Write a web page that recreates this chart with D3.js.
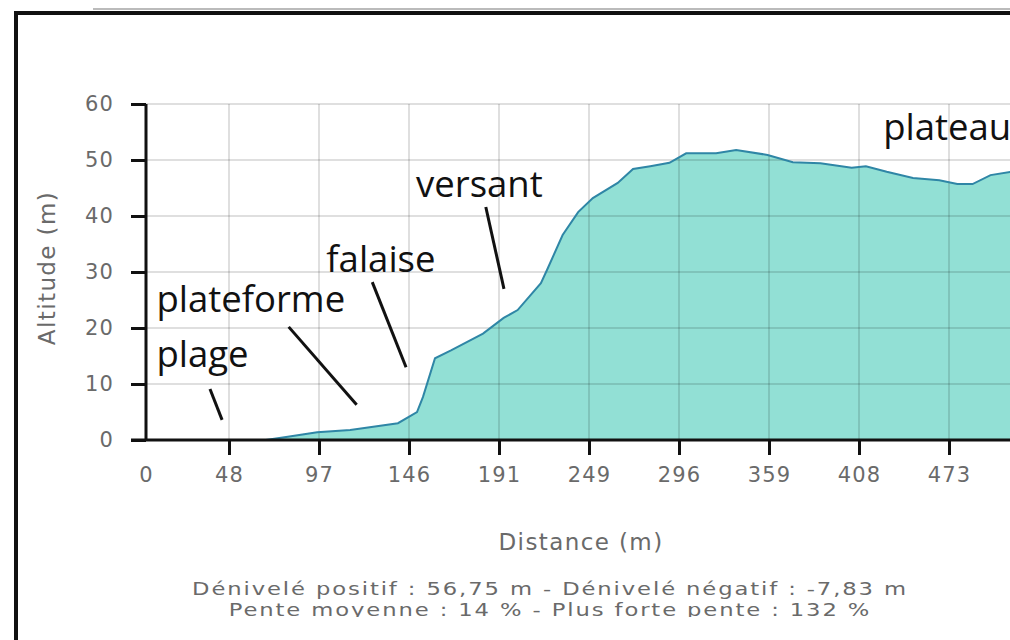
<!DOCTYPE html>
<meta charset="utf-8">
<style>
    body { margin: 0; background: #fff; }
    .grid line { stroke: #000; stroke-opacity: 0.17; stroke-width: 1.5px; }
    .axis path { display: none; }
    .axis line, .axis-line { stroke: #111; stroke-width: 3px; }
    .axis text {
        font-family: "DejaVu Sans", sans-serif;
        font-size: 21px;
        fill: #6a6a6a;
        letter-spacing: 1.2px;
    }
    .axis-title {
        font-family: "DejaVu Sans", sans-serif;
        font-size: 23px;
        fill: #6a6a6a;
        letter-spacing: 1.4px;
    }
    .footer {
        font-family: "DejaVu Sans", sans-serif;
        font-size: 18px;
        fill: #6a6a6a;
        letter-spacing: 1.5px;
    }
    .note { font-family: "Open Sans", sans-serif; font-size: 36.5px; fill: #111; }
    .leader { stroke: #111; stroke-width: 3px; }
    .profileArea { fill: #92e0d5; }
    .profileLine { fill: none; stroke: #2f86a6; stroke-width: 2px; }
    .frame { fill: none; stroke: #111; }
</style>
<body>
<script src="https://d3js.org/d3.v7.min.js"></script>
<script>

    // profile: distance (m) and altitude (m)
    var distances = [0, 68, 80, 96, 114, 140, 150, 153, 159, 167, 183, 194, 203, 218, 222, 232, 242,
                     251, 264, 272, 281, 291, 301, 322, 336, 358, 372, 387, 404, 413, 428, 447, 466,
                     479, 490, 503, 518, 532];
    var altitudes = [0, 0, 0.6, 1.4, 1.8, 3.0, 5.0, 7.7, 14.6, 16.0, 19.0, 21.8, 23.2, 28.0, 30.4, 36.6, 40.7,
                     43.2, 45.9, 48.4, 48.9, 49.5, 51.2, 51.2, 51.8, 50.9, 49.6, 49.4, 48.6, 48.9, 47.9, 46.8, 46.4,
                     45.7, 45.7, 47.3, 47.9, 48.2];

    // axis ticks
    var tickDistances = [0, 48, 97, 146, 191, 249, 296, 359, 408, 473];
    var altTicks = [0, 10, 20, 30, 40, 50, 60];

    // annotations, anchored in chart units (distance, altitude)
    var noteTexts = ["plage", "plateforme", "falaise", "versant", "plateau"];
    var noteAt = [[6, 13], [6, 22.9], [101, 30], [149.5, 43.4], [425.5, 53.6]];
    var leaderFrom = [[37, 9.1], [80.5, 20.2], [126, 28.2], [184.4, 41.6], null];
    var leaderTo = [[44, 3.6], [117.5, 6.3], [144.4, 13], [194.2, 27], null];

    var footerLines = ["Dénivelé positif : 56,75 m - Dénivelé négatif : -7,83 m",
                       "Pente moyenne : 14 % - Plus forte pente : 132 %"];

    var W = 1010, H = 640;
    var margin = {top: 104, left: 146, bottom: 200};
    var plotBottom = H - margin.bottom;
    var firstGap = 83, tickStep = 90;

    // the profile tool spaces its labelled samples evenly
    var x = d3.scaleLinear()
        .domain(tickDistances)
        .range(tickDistances.map(function(d, i) {
            return margin.left + (i === 0 ? 0 : firstGap + (i - 1) * tickStep);
        }));
    var y = d3.scaleLinear().domain([0, 60]).range([plotBottom, margin.top]);

    var data = distances.map(function(d, i) { return {dist: d, alt: altitudes[i]}; });

    var svg = d3.select("body").append("svg")
        .attr("width", W)
        .attr("height", H);

    // frame of the screenshot
    svg.append("line").attr("x1", 93).attr("x2", W).attr("y1", 9).attr("y2", 9)
        .attr("stroke", "#bbb").attr("stroke-width", 2);
    svg.append("path").attr("class", "frame")
        .attr("stroke-width", 4)
        .attr("d", "M16," + H + "V13H" + W);

    // area + line
    var area = d3.area()
        .x(function(d) { return x(d.dist); })
        .y0(y(0))
        .y1(function(d) { return y(d.alt); });
    var line = d3.line()
        .x(function(d) { return x(d.dist); })
        .y(function(d) { return y(d.alt); });

    svg.append("path").datum(data).attr("class", "profileArea").attr("d", area);

    // gridlines on top of the fill
    var grid = svg.append("g").attr("class", "grid");
    grid.selectAll(".gx").data(tickDistances.slice(1)).enter().append("line")
        .attr("x1", x).attr("x2", x)
        .attr("y1", y(60)).attr("y2", y(0));
    grid.selectAll(".gy").data(altTicks.slice(1)).enter().append("line")
        .attr("x1", x(0)).attr("x2", W)
        .attr("y1", y).attr("y2", y);

    svg.append("path").datum(data).attr("class", "profileLine").attr("d", line);

    // axes
    svg.append("g")
        .attr("class", "axis")
        .attr("transform", "translate(" + x(0) + ",0)")
        .call(d3.axisLeft(y).tickValues(altTicks).tickSize(15).tickPadding(17));

    var xAxis = svg.append("g")
        .attr("class", "axis")
        .attr("transform", "translate(0," + y(0) + ")")
        .call(d3.axisBottom(x).tickValues(tickDistances).tickSize(15).tickPadding(7));
    xAxis.selectAll(".tick").filter(function(d) { return d === 0; }).select("line").remove();
    xAxis.selectAll("text").attr("dy", "0.95em");

    svg.append("line").attr("class", "axis-line")
        .attr("x1", x(0)).attr("x2", x(0)).attr("y1", y(60)).attr("y2", y(0));
    svg.append("line").attr("class", "axis-line")
        .attr("x1", x(0) - 15).attr("x2", W).attr("y1", y(0)).attr("y2", y(0));

    // axis titles
    svg.append("text").attr("class", "axis-title")
        .attr("transform", "translate(55,268) rotate(-90)")
        .attr("text-anchor", "middle")
        .text("Altitude (m)");
    svg.append("text").attr("class", "axis-title")
        .attr("x", 581).attr("y", 550)
        .attr("text-anchor", "middle")
        .text("Distance (m)");

    // footer: wide, tight lines; descenders of the last line are cut by the container
    svg.append("clipPath").attr("id", "footClip")
        .append("rect").attr("x", 0).attr("y", 560).attr("width", W).attr("height", 57);
    svg.append("g").attr("clip-path", "url(#footClip)")
        .selectAll("text").data(footerLines).enter().append("text")
        .attr("class", "footer")
        .attr("transform", function(d, i) {
            return "translate(550," + (595 + i * 21) + ") scale(1.26,1)";
        })
        .attr("text-anchor", "middle")
        .text(function(d) { return d; });

    // annotations
    svg.selectAll(".note").data(noteTexts).enter().append("text")
        .attr("class", "note")
        .attr("x", function(d, i) { return x(noteAt[i][0]); })
        .attr("y", function(d, i) { return y(noteAt[i][1]); })
        .text(function(d) { return d; });
    svg.selectAll(".leader").data(leaderFrom.filter(Boolean)).enter().append("line")
        .attr("class", "leader")
        .attr("x1", function(d) { return x(d[0]); })
        .attr("y1", function(d) { return y(d[1]); })
        .attr("x2", function(d, i) { return x(leaderTo[i][0]); })
        .attr("y2", function(d, i) { return y(leaderTo[i][1]); });

</script>
</body>
